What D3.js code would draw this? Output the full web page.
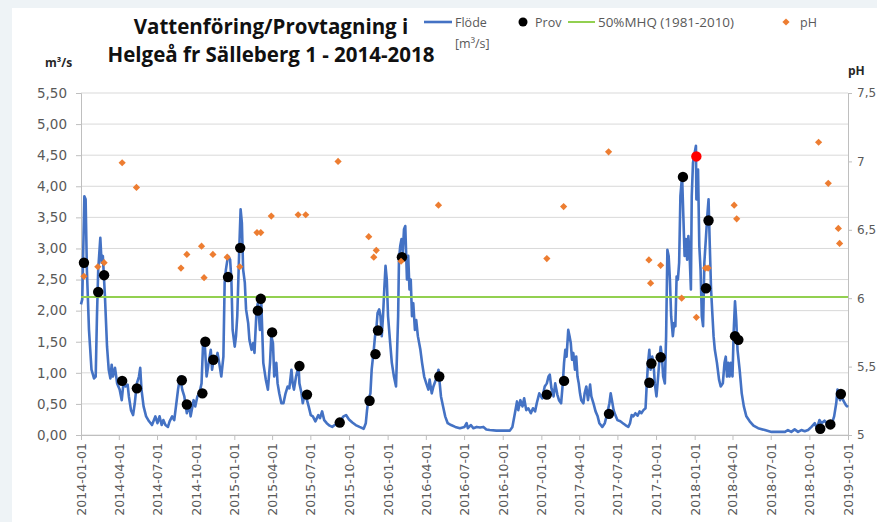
<!DOCTYPE html>
<html><head><meta charset="utf-8">
<script src="https://cdn.jsdelivr.net/npm/d3@7"></script>
<style>body{margin:0;background:#fff}svg{display:block}</style>
</head><body><svg id="c" width="877" height="522"></svg>
<script>
// ---------------- data ----------------
const titleLines = ["Vattenföring/Provtagning i", "Helgeå fr Sälleberg 1 - 2014-2018"];
const flowStart = "2014-01-01"; // flowDay = days since this date
const flowDay = [0,3,8,11,14,19,25,31,35,38,41,46,49,52,57,62,66,70,73,76,81,86,92,97,101,106,111,114,119,124,128,133,138,141,144,149,155,162,169,177,182,187,192,196,201,207,211,217,222,227,231,236,241,246,252,257,261,268,272,277,282,287,291,295,299,304,309,312,317,320,325,329,334,339,342,345,350,355,358,361,366,369,372,377,380,383,386,390,393,398,401,406,410,413,418,421,426,429,434,440,445,450,453,
457,460,465,468,472,477,482,487,492,496,501,504,507,512,518,520,525,528,533,538,542,547,552,558,565,569,574,579,585,592,598,604,612,619,625,631,638,646,654,663,673,678,681,684,689,692,697,700,703,706,710,713,716,719,722,725,728,731,736,740,745,750,755,757,760,763,766,769,772,776,779,782,785,788,791,795,798,802,808,812,817,822,827,830,835,839,846,851,854,857,862,867,873,881,891,902,
913,918,921,928,934,942,950,958,965,973,989,1005,1021,1027,1033,1038,1041,1046,1051,1055,1060,1065,1071,1076,1081,1085,
1091,1098,1104,1109,1113,1116,1120,1125,1129,1134,1138,1143,1147,1150,1153,1156,1160,1163,1166,1169,1172,1176,1179,1182,1185,1188,1191,1196,1199,1203,1207,1212,1215,1220,1225,1230,1234,1241,1247,1253,1258,1261,1264,1268,1272,1277,1284,1290,1296,1303,1307,1311,1315,1320,1325,1330,1334,1339,1344,1347,1350,1353,1356,1360,1363,1366,
1370,1374,1377,1380,1383,1386,1390,1393,1396,1399,1402,1405,1409,1412,1415,1418,1421,1424,1427,1431,1434,1437,1440,1443,1446,1449,1452,1454,1457,1461,1464,1465,1469,1472,1475,1478,1481,1484,1488,1491,1494,1497,1500,1503,1506,1509,1514,1519,1523,1528,1532,1535,1538,1541,1544,1547,1551,1554,1557,1560,1563,1568,1573,1578,1584,1592,1601,1612,1628,1644,1660,1676,1683,1691,1699,1707,1715,1723,1731,1739,1747,1752,1758,1763,1770,1775,1781,1788,1793,1798,1801,1804,1807,1811,1816,1821,1826];
const flowValue = [2.10,2.18,3.84,3.79,2.66,1.69,1.05,0.91,0.94,1.91,2.66,3.17,2.77,2.88,2.23,1.42,1.05,0.91,1.13,0.94,1.08,0.83,0.73,0.56,0.83,0.78,0.81,0.62,0.40,0.32,0.51,0.83,0.94,1.08,0.73,0.46,0.30,0.22,0.16,0.30,0.19,0.30,0.16,0.24,0.16,0.13,0.22,0.30,0.24,0.51,0.73,0.94,0.73,0.62,0.35,0.51,0.30,0.56,0.46,0.62,0.67,0.83,1.53,1.42,0.94,1.16,1.37,1.05,1.26,1.16,1.32,1.16,0.94,1.26,2.45,2.66,2.88,2.82,2.50,1.69,1.42,1.59,1.91,3.04,3.63,3.41,2.66,2.45,2.02,1.80,1.53,1.37,1.48,1.32,2.02,2.12,1.69,2.18,1.16,0.89,0.73,1.16,1.59,
1.48,0.94,1.16,0.83,0.67,0.51,0.51,0.67,0.78,0.75,1.05,0.83,0.73,0.94,1.11,0.83,0.67,0.51,0.67,0.56,0.46,0.32,0.30,0.22,0.32,0.27,0.38,0.24,0.19,0.15,0.13,0.16,0.19,0.24,0.30,0.32,0.25,0.20,0.16,0.13,0.10,0.19,0.40,0.56,0.67,1.05,1.37,1.59,1.69,1.96,2.02,1.91,1.59,1.91,2.34,2.72,2.50,1.91,1.48,1.16,0.94,0.78,1.91,2.82,3.04,3.15,2.93,3.31,3.36,2.50,2.88,2.34,2.50,1.91,2.12,1.69,1.85,1.59,1.37,1.16,0.94,0.83,0.73,0.89,0.67,0.78,0.91,1.05,0.83,0.62,0.46,0.30,0.19,0.16,0.13,0.11,
0.13,0.19,0.11,0.16,0.11,0.13,0.12,0.13,0.09,0.08,0.07,0.07,0.07,0.13,0.35,0.54,0.40,0.56,0.46,0.59,0.40,0.43,0.35,0.43,0.38,0.51,
0.67,0.59,0.78,0.83,0.94,0.97,0.75,0.62,0.83,0.65,0.56,0.51,0.83,1.16,1.37,1.26,1.69,1.59,1.48,1.21,1.32,1.05,1.26,0.94,0.83,0.67,0.56,0.51,0.67,0.78,0.56,0.81,0.62,0.51,0.38,0.30,0.19,0.13,0.19,0.35,0.51,0.67,0.56,0.40,0.32,0.24,0.22,0.19,0.16,0.13,0.19,0.32,0.30,0.35,0.31,0.38,0.35,0.40,0.43,0.83,1.16,1.37,1.05,1.26,1.16,0.83,
0.62,0.94,1.21,1.42,1.26,0.94,0.83,1.59,2.98,2.88,2.50,1.91,1.59,1.80,1.75,2.55,2.50,2.77,3.84,4.17,3.52,2.88,3.15,2.82,3.20,2.88,2.34,3.84,4.38,4.54,4.65,3.79,4.27,3.04,2.66,1.91,1.75,2.77,3.20,3.52,3.79,3.04,2.34,1.96,1.59,1.37,1.16,0.89,0.78,0.83,1.16,1.26,0.94,1.16,0.94,1.16,0.94,1.69,2.15,1.85,1.37,1.05,0.67,0.46,0.30,0.22,0.15,0.11,0.08,0.05,0.05,0.05,0.08,0.05,0.09,0.05,0.08,0.06,0.08,0.13,0.19,0.11,0.24,0.19,0.23,0.19,0.16,0.19,0.30,0.51,0.73,0.62,0.56,0.62,0.54,0.48,0.45];

const provDate = ["2014-01-08","2014-02-11","2014-02-25","2014-04-09","2014-05-14","2014-08-29","2014-09-10","2014-10-17","2014-10-24","2014-11-12","2014-12-17","2015-01-15","2015-02-26","2015-03-05","2015-04-01","2015-06-05","2015-06-23","2015-09-09","2015-11-19","2015-12-03","2015-12-09","2016-02-04","2016-05-03","2017-01-14","2017-02-24","2017-06-11","2017-09-15","2017-09-20","2017-10-12","2017-12-04","2018-01-05","2018-01-28","2018-02-03","2018-04-07","2018-04-15","2018-10-27","2018-11-20","2018-12-15"];
const provValue = [2.77,2.30,2.57,0.87,0.75,0.88,0.49,0.67,1.50,1.21,2.54,3.01,2.00,2.19,1.65,1.11,0.65,0.20,0.55,1.30,1.68,2.86,0.94,0.65,0.87,0.34,0.84,1.15,1.25,4.15,4.48,2.36,3.45,1.59,1.53,0.10,0.17,0.66];
const provHighlight = "2018-01-05";

const phDate = ["2014-01-08","2014-02-10","2014-02-25","2014-04-09","2014-05-13","2014-08-27","2014-09-10","2014-10-15","2014-10-21","2014-11-11","2014-12-15","2015-01-14","2015-02-24","2015-03-05","2015-03-30","2015-06-02","2015-06-20","2015-09-05","2015-11-17","2015-11-29","2015-12-05","2016-02-02","2016-05-01","2017-01-14","2017-02-23","2017-06-10","2017-09-14","2017-09-18","2017-10-12","2017-12-01","2018-01-05","2018-01-27","2018-02-02","2018-04-05","2018-04-11","2018-10-23","2018-11-15","2018-12-09","2018-12-12"];
const phValue = [6.16,6.23,6.26,6.99,6.81,6.22,6.32,6.38,6.15,6.32,6.30,6.23,6.48,6.48,6.60,6.61,6.61,7.00,6.45,6.30,6.35,6.27,6.68,6.29,6.67,7.07,6.28,6.11,6.24,6.00,5.86,6.22,6.22,6.68,6.58,7.14,6.84,6.51,6.40];

const mhqValue = 2.22;
const legendLabels = ["Flöde", "[m³/s]", "Prov", "50%MHQ (1981-2010)", "pH"];
const yTicks = [0,0.5,1,1.5,2,2.5,3,3.5,4,4.5,5,5.5];
const phTicks = [5,5.5,6,6.5,7,7.5];
const xTickLabels = ["2014-01-01","2014-04-01","2014-07-01","2014-10-01","2015-01-01","2015-04-01","2015-07-01","2015-10-01","2016-01-01","2016-04-01","2016-07-01","2016-10-01","2017-01-01","2017-04-01","2017-07-01","2017-10-01","2018-01-01","2018-04-01","2018-07-01","2018-10-01","2019-01-01"];

// ---------------- drawing ----------------
const W = 877, H = 522;
const svg = d3.select("#c");
const FONT = "'DejaVu Sans', sans-serif";
const TFONT = "'Open Sans', 'Noto Sans', sans-serif";
const axisCol = "#bfbfbf", gridCol = "#d9d9d9", textCol = "#595959";
const blue = "#4472C4", green = "#92D050", orange = "#ED7D31";

svg.append("rect").attr("width", W).attr("height", H).attr("fill", "#eef3f6");
svg.append("rect").attr("x", 12).attr("y", 8).attr("width", W - 12).attr("height", H - 8).attr("fill", "#ffffff");

const parse = d3.utcParse("%Y-%m-%d");
const t0 = parse(flowStart);
const L = 81, R = 848, B = 435, T = 93;
const x = d3.scaleUtc().domain([parse(xTickLabels[0]), parse(xTickLabels[xTickLabels.length - 1])]).range([L, R]);
const y = d3.scaleLinear().domain([0, 5.5]).range([B, T]);
const yPh = d3.scaleLinear().domain([5, 7.5]).range([B, T]);

// gridlines
svg.append("g").selectAll("line").data(yTicks).join("line")
  .attr("x1", L).attr("x2", R).attr("y1", d => y(d)).attr("y2", d => y(d))
  .attr("stroke", gridCol).attr("stroke-width", 1);

function styleAxis(g, size) {
  g.attr("font-family", FONT).attr("font-size", size);
  g.select(".domain").attr("stroke", axisCol);
  g.selectAll(".tick line").attr("stroke", axisCol);
  g.selectAll(".tick text").attr("fill", textCol);
}

const commaFmt = d => d3.format(".2f")(d).replace(".", ",");
const gl = svg.append("g").attr("transform", `translate(${L},0)`)
  .call(d3.axisLeft(y).tickValues(yTicks).tickFormat(commaFmt).tickSize(5).tickPadding(9));
styleAxis(gl, 13.5);

const gr = svg.append("g").attr("transform", `translate(${R},0)`)
  .call(d3.axisRight(yPh).tickValues(phTicks).tickFormat(d => String(d).replace(".", ",")).tickSize(4).tickPadding(5));
styleAxis(gr, 12);

const gx = svg.append("g").attr("transform", `translate(0,${B})`)
  .call(d3.axisBottom(x).tickValues(xTickLabels.map(parse)).tickFormat(d3.utcFormat("%Y-%m-%d")).tickSize(5));
styleAxis(gx, 12.5);
gx.selectAll(".tick text").attr("transform", "rotate(-90)")
  .attr("x", -8).attr("y", 0).attr("dy", "0.36em").style("text-anchor", "end");

// flow line
const flow = flowDay.map((d, i) => ({ date: d3.utcDay.offset(t0, d), v: flowValue[i] }));
svg.append("path").datum(flow)
  .attr("fill", "none").attr("stroke", blue).attr("stroke-width", 2.6)
  .attr("stroke-linejoin", "round")
  .attr("d", d3.line().x(d => x(d.date)).y(d => y(d.v)));

// MHQ line
svg.append("line").attr("x1", L).attr("x2", R).attr("y1", y(mhqValue)).attr("y2", y(mhqValue))
  .attr("stroke", green).attr("stroke-width", 2);

// Prov points
svg.append("g").selectAll("circle").data(provDate.map((d, i) => ({ d, v: provValue[i] }))).join("circle")
  .attr("cx", p => x(parse(p.d))).attr("cy", p => y(p.v)).attr("r", 5.2)
  .attr("fill", p => p.d === provHighlight ? "#FF0000" : "#000000");

// pH points
const diamond = d3.symbol().type(d3.symbolSquare).size(26);
svg.append("g").selectAll("path").data(phDate.map((d, i) => ({ d, v: phValue[i] }))).join("path")
  .attr("d", diamond)
  .attr("transform", p => `translate(${x(parse(p.d))},${yPh(p.v)}) rotate(45)`)
  .attr("fill", orange);

// title
svg.append("g").selectAll("text").data(titleLines).join("text")
  .attr("x", 271).attr("y", (d, i) => 34 + i * 28)
  .attr("text-anchor", "middle").attr("font-family", TFONT).attr("font-weight", "bold")
  .attr("font-size", 20.5).attr("fill", "#111").text(d => d);

// axis titles
svg.append("text").attr("x", 45).attr("y", 67).attr("font-family", TFONT).attr("font-weight", "bold")
  .attr("font-size", 12).attr("fill", "#262626").text("m³/s");
svg.append("text").attr("x", 848).attr("y", 75).attr("font-family", TFONT).attr("font-weight", "bold")
  .attr("font-size", 12).attr("fill", "#262626").text("pH");

// legend
const lg = svg.append("g").attr("font-family", TFONT).attr("font-size", 12.5).attr("fill", textCol);
const ly = 22;
lg.append("line").attr("x1", 424).attr("x2", 452).attr("y1", ly).attr("y2", ly).attr("stroke", blue).attr("stroke-width", 2.6);
lg.append("text").attr("x", 455).attr("y", ly + 4.5).text(legendLabels[0]);
lg.append("text").attr("x", 455).attr("y", ly + 26).text(legendLabels[1]);
lg.append("circle").attr("cx", 523).attr("cy", ly).attr("r", 4.5).attr("fill", "#000");
lg.append("text").attr("x", 535).attr("y", ly + 4.5).text(legendLabels[2]);
lg.append("line").attr("x1", 568).attr("x2", 595).attr("y1", ly).attr("y2", ly).attr("stroke", green).attr("stroke-width", 2);
lg.append("text").attr("x", 598).attr("y", ly + 4.5).attr("textLength", 136).attr("lengthAdjust", "spacingAndGlyphs").text(legendLabels[3]);
lg.append("path").attr("d", diamond).attr("transform", `translate(786,${ly}) rotate(45)`).attr("fill", orange);
lg.append("text").attr("x", 800).attr("y", ly + 4.5).text(legendLabels[4]);
</script>
</body></html>
